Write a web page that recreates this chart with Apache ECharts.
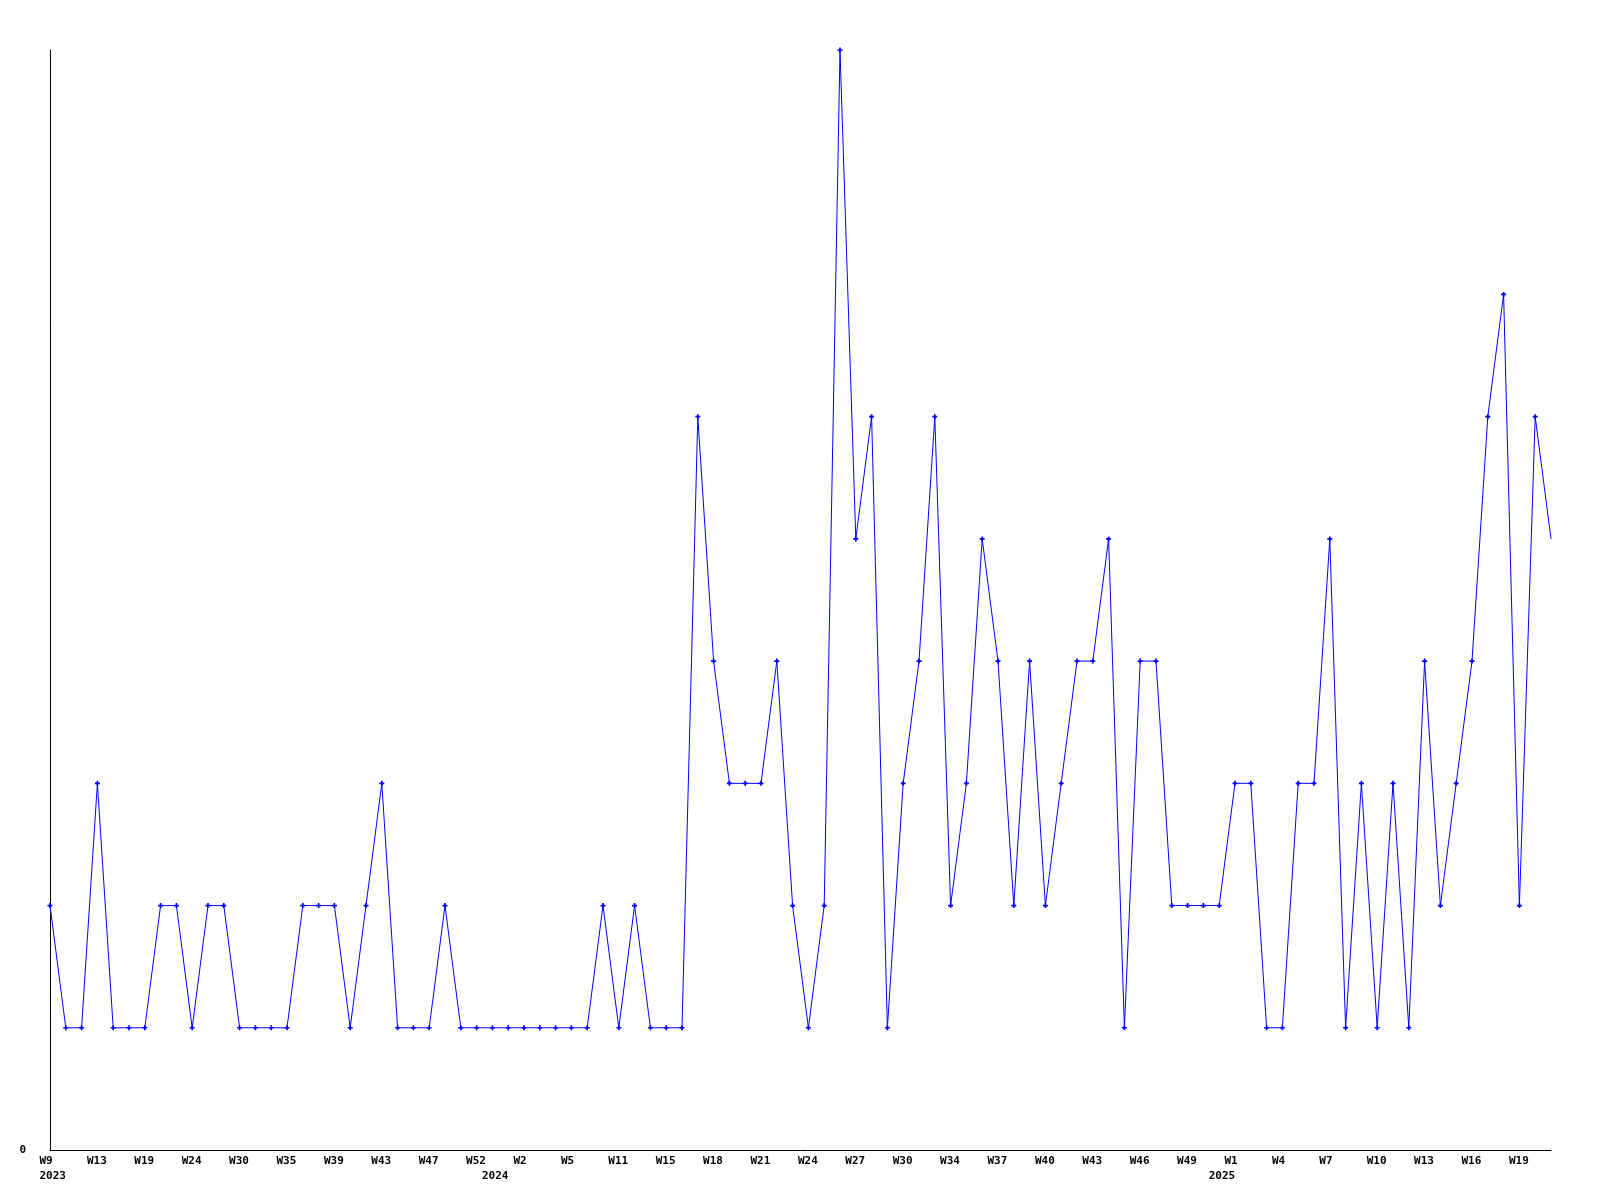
<!DOCTYPE html>
<html>
<head>
<meta charset="utf-8">
<script src="https://cdn.jsdelivr.net/npm/echarts@6/dist/echarts.min.js"></script>
<style>html,body{margin:0;padding:0;background:#fff;}#c{width:1600px;height:1200px;}</style>
</head>
<body>
<div id="c"></div>
<script>
const weeks = ['W9','W10','W11','W13','W15','W17','W19','W20','W22','W24',
  'W26','W28','W30','W31','W33','W35','W36','W37','W39','W40',
  'W42','W43','W44','W45','W47','W49','W51','W52','W1','W1',
  'W2','W3','W4','W5','W7','W9','W11','W12','W14','W15',
  'W16','W17','W18','W19','W20','W21','W22','W23','W24','W25',
  'W26','W27','W28','W29','W30','W31','W33','W34','W35','W36',
  'W37','W38','W39','W40','W41','W42','W43','W44','W45','W46',
  'W47','W48','W49','W50','W52','W1','W2','W3','W4','W5',
  'W6','W7','W8','W9','W10','W11','W12','W13','W14','W15',
  'W16','W17','W18','W19','W20','W21'];
const values = [2,1,1,3,1,1,1,2,2,1, 2,2,1,1,1,1,2,2,2,1,
  2,3,1,1,1,2,1,1,1,1, 1,1,1,1,1,2,1,2,1,1,
  1,6,4,3,3,3,4,2,1,2, 9,5,6,1,3,4,6,2,3,5,
  4,2,4,2,3,4,4,5,1,4, 4,2,2,2,2,3,3,1,1,3,
  3,5,1,3,1,3,1,4,2,3, 4,6,7,2,6,5];
const yearLabelIndex = [0, 28, 74];
const yearLabels = ['2023', '2024', '2025'];
const yTickLabels = ['0'];

const font = {fontFamily: 'DejaVu Sans Mono', fontWeight: 'bold', fontSize: 11, color: '#000'};
const chart = echarts.init(document.getElementById('c'), null, {renderer: 'canvas'});
chart.setOption({
  animation: false,
  backgroundColor: '#fff',
  grid: {left: 50, right: 49, top: 50, bottom: 50, containLabel: false},
  xAxis: [{
    type: 'category', data: weeks, boundaryGap: false, position: 'bottom',
    axisLine: {show: true, lineStyle: {color: '#000', width: 1}},
    axisTick: {show: false}, splitLine: {show: false},
    axisLabel: Object.assign({
      interval: (i) => i % 3 === 0, align: 'left', margin: 6,
      padding: [0, 0, 0, -10.5], hideOverlap: false
    }, font)
  }, {
    type: 'category', data: weeks, boundaryGap: false, position: 'bottom', gridIndex: 0,
    axisLine: {show: false}, axisTick: {show: false}, splitLine: {show: false},
    axisLabel: Object.assign({
      interval: (i) => yearLabelIndex.indexOf(i) >= 0, align: 'left', margin: 21,
      padding: [0, 0, 0, -10.5], hideOverlap: false,
      formatter: (v, i) => { const k = yearLabelIndex.indexOf(i); return k >= 0 ? yearLabels[k] : ''; }
    }, font)
  }],
  yAxis: {
    type: 'value', min: 0, max: 9, interval: 9,
    axisLine: {show: true, lineStyle: {color: '#000', width: 1}},
    axisTick: {show: false}, splitLine: {show: false},
    axisLabel: Object.assign({
      margin: 24, formatter: (v) => (v === 0 ? yTickLabels[0] : '')
    }, font)
  },
  series: [{
    type: 'line', xAxisIndex: 0,
    data: values.map((v, i) => i === values.length - 1 ? {value: v, symbol: 'none'} : v),
    showAllSymbol: true,
    symbol: 'path://M2,0H4V2H6V4H4V6H2V4H0V2H2Z', symbolSize: 5,
    lineStyle: {color: '#0000ff', width: 1},
    itemStyle: {color: '#0000ff'},
    clip: true
  }]
});
</script>
</body>
</html>
